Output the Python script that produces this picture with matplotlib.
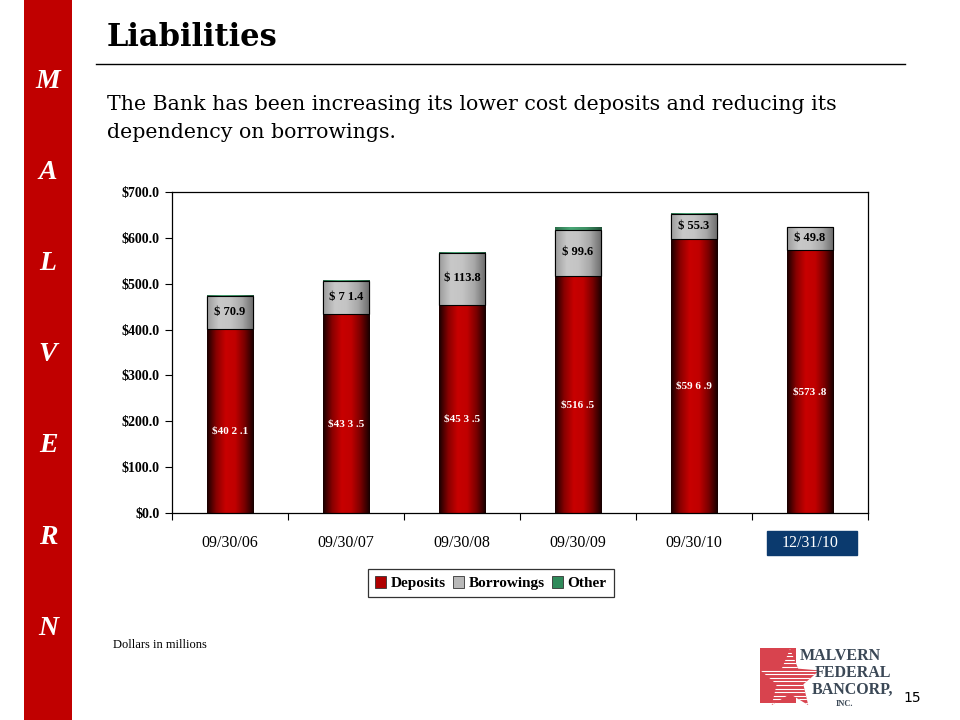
import numpy as np
import matplotlib
matplotlib.use('Agg')
import matplotlib.pyplot as plt
from matplotlib.colors import LinearSegmentedColormap
from matplotlib.patches import Rectangle, Polygon
from matplotlib.lines import Line2D

# ---------------- data ----------------
categories = ['09/30/06', '09/30/07', '09/30/08', '09/30/09', '09/30/10', '12/31/10']
deposits = [402.1, 433.5, 453.5, 516.5, 596.9, 573.8]
borrowings = [70.9, 71.4, 113.8, 99.6, 55.3, 49.8]
other = [3.0, 3.5, 1.0, 8.0, 1.0, 1.0]
deposit_labels = ['$40 2 .1', '$43 3 .5', '$45 3 .5', '$516 .5', '$59 6 .9', '$573 .8']
borrowing_labels = ['$ 70.9', '$ 7 1.4', '$ 113.8', '$ 99.6', '$ 55.3', '$ 49.8']
ytick_values = [0, 100, 200, 300, 400, 500, 600, 700]
ytick_labels = ['$0.0', '$100.0', '$200.0', '$300.0', '$400.0', '$500.0', '$600.0', '$700.0']
series_names = ['Deposits', 'Borrowings', 'Other']
side_letters = ['M', 'A', 'L', 'V', 'E', 'R', 'N']

SERIF = ['Liberation Serif', 'DejaVu Serif']

fig = plt.figure(figsize=(9.6, 7.2), dpi=100)
fig.patch.set_facecolor('white')

# ---------------- left red stripe ----------------
fig.add_artist(Rectangle((24 / 960, 0), 48 / 960, 1, transform=fig.transFigure,
                         facecolor='#C00000', edgecolor='none', zorder=0))
for i, letter in enumerate(side_letters):
    fig.text(48 / 960, 1 - (81 + i * 91.2) / 720, letter, ha='center', va='center',
             color='white', fontsize=20, fontweight='bold', fontstyle='italic', family=SERIF)

# ---------------- title & subtitle ----------------
fig.text(107 / 960, 1 - 37 / 720, 'Liabilities', ha='left', va='center',
         fontsize=22, fontweight='bold', family=['DejaVu Serif'])
fig.add_artist(Line2D([96 / 960, 905 / 960], [1 - 64 / 720, 1 - 64 / 720],
                      transform=fig.transFigure, color='black', linewidth=1.0))
fig.text(107 / 960, 1 - 104 / 720,
         'The Bank has been increasing its lower cost deposits and reducing its',
         ha='left', va='center', fontsize=14.8, family=['DejaVu Serif'])
fig.text(107 / 960, 1 - 133 / 720, 'dependency on borrowings.',
         ha='left', va='center', fontsize=14.8, family=['DejaVu Serif'])

# ---------------- chart ----------------
ax = fig.add_axes([172 / 960, 1 - 513 / 720, 696 / 960, 321 / 720])
x = np.arange(len(categories))
width = 0.40

red_cmap = LinearSegmentedColormap.from_list('r', ['#160000', '#8a0000', '#c80000', '#c00000', '#7a0000', '#140000'])
gray_cmap = LinearSegmentedColormap.from_list('g', ['#9a9a9a', '#c8c8c8', '#c4c4c4', '#a8a8a8', '#6a6a6a'])
green_cmap = LinearSegmentedColormap.from_list('gr', ['#2b6e4a', '#4aa877', '#3d8f63', '#1f5037'])

b1 = ax.bar(x, deposits, width, color='#c00000', edgecolor='none', zorder=2)
b2 = ax.bar(x, borrowings, width, bottom=deposits, color='#b8b8b8', edgecolor='black',
            linewidth=0.8, zorder=2)
bottom3 = [d + b for d, b in zip(deposits, borrowings)]
b3 = ax.bar(x, other, width, bottom=bottom3, color='#3d8f63', edgecolor='none', zorder=2)

grad = np.linspace(0, 1, 256).reshape(1, -1)
for container, cmap in ((b1, red_cmap), (b2, gray_cmap), (b3, green_cmap)):
    for rect in container:
        x0, y0 = rect.get_x(), rect.get_y()
        w, h = rect.get_width(), rect.get_height()
        im = ax.imshow(grad, cmap=cmap, extent=[x0, x0 + w, y0, y0 + h],
                       aspect='auto', zorder=2.1, interpolation='bilinear')
        im.set_clip_path(rect)
# black outline on top of the gray segments
for rect in b2:
    ax.add_patch(Rectangle((rect.get_x(), rect.get_y()), rect.get_width(), rect.get_height(),
                           facecolor='none', edgecolor='black', linewidth=0.8, zorder=2.2))

for i in range(len(categories)):
    ax.text(x[i], deposits[i] * 0.5 - 22, deposit_labels[i], ha='center', va='center',
            color='white', fontsize=8, fontweight='bold', family=SERIF, zorder=3)
    ax.text(x[i], deposits[i] + borrowings[i] * 0.52, borrowing_labels[i], ha='center',
            va='center', color='black', fontsize=9, fontweight='bold', family=SERIF, zorder=3)

ax.set_xlim(-0.5, len(categories) - 0.5)
ax.set_ylim(0, 700)
ax.set_yticks(ytick_values)
ax.set_yticklabels(ytick_labels, fontsize=10, fontweight='bold', family=SERIF)
ax.tick_params(axis='y', direction='out', length=5, width=0.8, pad=4)

ax.set_xticks(x)
ax.set_xticklabels(categories, fontsize=11.5, family=SERIF)
ax.set_xticks(np.arange(-0.5, len(categories), 1.0), minor=True)
ax.tick_params(axis='x', which='major', length=0, pad=16)
ax.tick_params(axis='x', which='minor', length=5, width=0.8, direction='out')
ax.get_xticklabels()[-1].set_color('white')
# highlight box behind the last category label
fig.add_artist(Rectangle((767 / 960, 1 - 555 / 720), 90 / 960, 24 / 720,
                         transform=fig.transFigure, facecolor='#0b3a6e',
                         edgecolor='#0b3a6e', zorder=-1))

for s in ax.spines.values():
    s.set_linewidth(0.9)
    s.set_color('black')

handles = [Rectangle((0, 0), 1, 1, facecolor=c, edgecolor='#333333', linewidth=0.6)
           for c in ('#b00000', '#b8b8b8', '#2f8a5a')]
leg = fig.legend(handles, series_names, loc='center', bbox_to_anchor=(491 / 960, 1 - 583 / 720),
                 ncol=3, frameon=True, fancybox=False, shadow=False, handlelength=0.7,
                 handleheight=0.9, handletextpad=0.3, columnspacing=0.5, borderpad=0.45,
                 prop={'family': SERIF, 'size': 11, 'weight': 'bold'})
leg.get_frame().set_edgecolor('black')
leg.get_frame().set_linewidth(0.9)

fig.text(113 / 960, 1 - 645 / 720, 'Dollars in millions', ha='left', va='center',
         fontsize=9, family=SERIF)
fig.text(912 / 960, 1 - 698 / 720, '15', ha='center', va='center', fontsize=10,
         family=['DejaVu Sans'])

# ---------------- logo ----------------
lax = fig.add_axes([758 / 960, 1 - 708 / 720, 130 / 960, 62 / 720])
lax.set_xlim(0, 130)
lax.set_ylim(0, 62)
lax.axis('off')
logo_red = '#d8434e'
lax.add_patch(Rectangle((2, 5), 36, 55, facecolor=logo_red, edgecolor='none'))
cx, cy, ro, ri = 32, 28, 31, 14
star_pts = []
for k in range(10):
    ang = np.pi / 2 + k * np.pi / 5
    r = ro if k % 2 == 0 else ri
    star_pts.append((cx + r * np.cos(ang), cy + r * np.sin(ang)))
star = Polygon(star_pts, closed=True, facecolor=logo_red, edgecolor='none')
lax.add_patch(star)
for yy in np.arange(1.5, 60, 3.6):
    ln, = lax.plot([0, 70], [yy, yy], color='white', linewidth=0.8)
    ln.set_clip_path(star)
lax.text(42, 52, 'MALVERN', fontsize=11.5, fontweight='bold', color='#3b4856',
         family=SERIF, va='center', ha='left')
lax.text(57, 35, 'FEDERAL', fontsize=11.5, fontweight='bold', color='#3b4856',
         family=SERIF, va='center', ha='left')
lax.text(54, 18, 'BANCORP,', fontsize=11.5, fontweight='bold', color='#3b4856',
         family=SERIF, va='center', ha='left')
lax.text(78, 4, 'INC.', fontsize=6, fontweight='bold', color='#3b4856',
         family=SERIF, va='center', ha='left')

fig.savefig('out.png', dpi=100)
